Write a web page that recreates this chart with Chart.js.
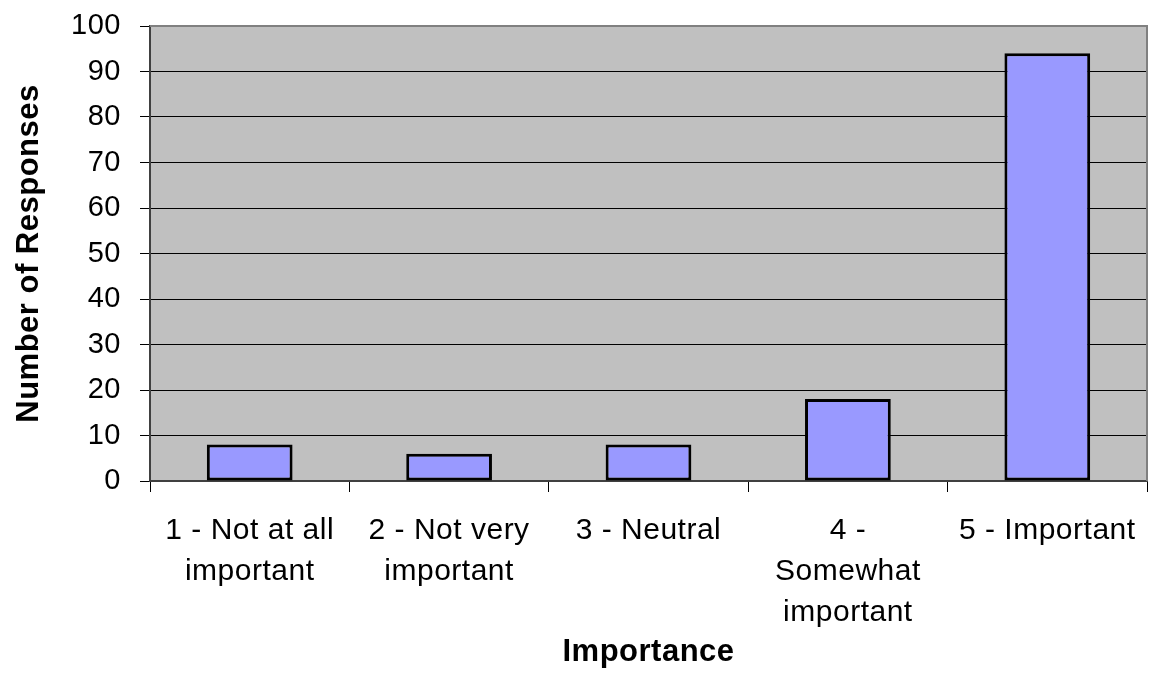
<!DOCTYPE html>
<html>
<head>
<meta charset="utf-8">
<script src="https://cdn.jsdelivr.net/npm/chart.js@4/dist/chart.umd.min.js"></script>
<style>
  html, body { margin: 0; padding: 0; background: #ffffff; }
  #wrap { width: 1151px; height: 675px; }
</style>
</head>
<body>
<div id="wrap"><canvas id="chart" width="1151" height="675"></canvas></div>
<script>
// Survey responses by importance rating
const categories = [
  ['1 - Not at all', 'important'],
  ['2 - Not very', 'important'],
  ['3 - Neutral'],
  ['4 -', 'Somewhat', 'important'],
  ['5 - Important']
];
const responses = [8, 6, 8, 18, 94];
const yTicks = [0, 10, 20, 30, 40, 50, 60, 70, 80, 90, 100];

const FONT = "'Liberation Sans', Arial, Helvetica, sans-serif";

// Slightly open letter spacing for all chart text
const spacing = {
  id: 'spacing',
  beforeInit(chart) { chart.ctx.letterSpacing = '0.5px'; },
  beforeLayout(chart) { chart.ctx.letterSpacing = '0.5px'; },
  beforeDraw(chart) { chart.ctx.letterSpacing = '0.5px'; }
};

// Grey plot area behind the grid, and a grey frame around it
const plotFrame = {
  id: 'plotFrame',
  beforeDraw(chart) {
    const { ctx, chartArea: a } = chart;
    ctx.save();
    ctx.fillStyle = '#C0C0C0';
    ctx.fillRect(a.left, a.top, a.right - a.left, a.bottom - a.top);
    ctx.restore();
  },
  beforeDatasetsDraw(chart) {
    const { ctx, chartArea: a } = chart;
    ctx.save();
    ctx.strokeStyle = '#808080';
    ctx.lineWidth = 2;
    ctx.beginPath();
    ctx.moveTo(a.left, a.top);
    ctx.lineTo(a.right, a.top);
    ctx.lineTo(a.right, a.bottom);
    ctx.stroke();
    ctx.restore();
  }
};

new Chart(document.getElementById('chart'), {
  type: 'bar',
  data: {
    labels: categories,
    datasets: [{
      data: responses,
      backgroundColor: '#9999FF',
      borderColor: '#000000',
      borderWidth: 3,
      borderSkipped: false,
      barPercentage: 0.43,
      categoryPercentage: 1.0
    }]
  },
  options: {
    responsive: false,
    animation: false,
    devicePixelRatio: 1,
    layout: { padding: { top: 26, right: 4, left: 0, bottom: 0 } },
    plugins: {
      legend: { display: false },
      tooltip: { enabled: false }
    },
    scales: {
      x: {
        grid: {
          offset: true,
          drawOnChartArea: false,
          drawTicks: true,
          tickLength: 11,
          color: '#000000',
          lineWidth: 1
        },
        border: { color: '#404040', width: 2 },
        ticks: {
          color: '#000000',
          padding: 18,
          maxRotation: 0,
          autoSkip: false,
          font: { family: FONT, size: 30, lineHeight: 1.37 }
        },
        title: {
          display: true,
          text: 'Importance',
          color: '#000000',
          padding: { top: 0, bottom: 4 },
          font: { family: FONT, size: 31, weight: 'bold', lineHeight: 1.2 }
        },
        afterFit(scale) {
          scale.height = 194;
          scale.paddingLeft = 0;
          scale.paddingRight = 0;
        }
      },
      y: {
        min: 0,
        max: 100,
        afterBuildTicks(scale) { scale.ticks = yTicks.map(v => ({ value: v })); },
        grid: {
          color: '#000000',
          lineWidth: 1,
          drawTicks: true,
          tickLength: 10,
          tickColor: '#000000'
        },
        border: { color: '#404040', width: 2 },
        ticks: {
          color: '#000000',
          padding: 19,
          font: { family: FONT, size: 29 }
        },
        title: {
          display: true,
          text: 'Number of Responses',
          color: '#000000',
          padding: { top: 11, bottom: 0 },
          font: { family: FONT, size: 31, weight: 'bold', lineHeight: 1.2 }
        },
        afterFit(scale) {
          scale.width = 150;
          scale.paddingTop = 0;
          scale.paddingBottom = 0;
        }
      }
    }
  },
  plugins: [spacing, plotFrame]
});
</script>
</body>
</html>
